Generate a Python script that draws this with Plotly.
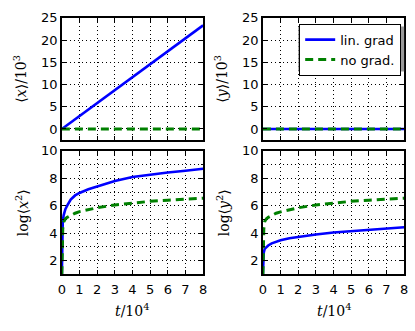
import plotly.graph_objects as go

# ---- data ----
t_lin = [0, 8]
mean_x_grad = [0, 23.3]
mean_x_nograd = [0, 0]
mean_y_grad = [0, 0]
mean_y_nograd = [0, 0]

t_log = [0, 0.02, 0.05, 0.1, 0.2, 0.3, 0.5, 0.75, 1, 1.5, 2, 3, 4, 5, 6, 7, 8]
logx2_grad = [1, 4.0, 4.8, 5.3, 5.75, 6.0, 6.45, 6.75, 6.93, 7.2, 7.4, 7.8, 8.1, 8.28, 8.42, 8.55, 8.7]
logx2_nograd = [1, 3.6, 4.3, 4.8, 5.05, 5.15, 5.3, 5.45, 5.57, 5.73, 5.85, 6.05, 6.2, 6.32, 6.4, 6.48, 6.55]
logy2_grad = [1, 2.2, 2.6, 2.85, 3.0, 3.1, 3.25, 3.38, 3.48, 3.62, 3.72, 3.9, 4.05, 4.15, 4.25, 4.35, 4.43]
logy2_nograd = [1, 3.6, 4.3, 4.85, 5.05, 5.15, 5.3, 5.45, 5.55, 5.72, 5.85, 6.05, 6.2, 6.32, 6.4, 6.48, 6.55]

x_ticks = [0, 1, 2, 3, 4, 5, 6, 7, 8]
top_y_ticks = [0, 5, 10, 15, 20, 25]
bot_y_ticks = [2, 4, 6, 8, 10]

BLUE = "#0000ff"
GREEN = "#008000"
W, H = 415, 331

fig = go.Figure()

def add(x, y, xa, ya, color, dash, name, show):
    fig.add_trace(go.Scatter(
        x=x, y=y, xaxis=xa, yaxis=ya, mode="lines", name=name,
        line=dict(color=color, width=2.6 if dash == "solid" else 3, dash=dash),
        showlegend=show, legendgroup=name))

# top-left
add(t_lin, mean_x_grad, "x", "y", BLUE, "solid", "lin. grad", True)
add(t_lin, mean_x_nograd, "x", "y", GREEN, "8px,5px", "no grad.", True)
# top-right
add(t_lin, mean_y_grad, "x2", "y2", BLUE, "solid", "lin. grad", False)
add(t_lin, mean_y_nograd, "x2", "y2", GREEN, "8px,5px", "no grad.", False)
# bottom-left
add(t_log, logx2_grad, "x3", "y3", BLUE, "solid", "lin. grad", False)
add(t_log, logx2_nograd, "x3", "y3", GREEN, "8px,5px", "no grad.", False)
# bottom-right
add(t_log, logy2_grad, "x4", "y4", BLUE, "solid", "lin. grad", False)
add(t_log, logy2_nograd, "x4", "y4", GREEN, "8px,5px", "no grad.", False)

px = lambda v: v / W
py = lambda v: 1 - v / H

xl = [px(59), px(203)]
xr = [px(264), px(408)]
yt = [py(136), py(11)]
yb = [py(273), py(147)]

tickfont = dict(family="DejaVu Sans", size=13, color="black")
grid = dict(showgrid=True, gridcolor="black", gridwidth=0.8, griddash="1px,3px")
common = dict(showline=True, linecolor="black", linewidth=1.6, mirror="allticks",
              ticks="inside", ticklen=4, tickwidth=1, tickcolor="black",
              zeroline=False, tickfont=tickfont, **grid)

def xaxis(domain, anchor, labels):
    return dict(domain=domain, anchor=anchor, range=[0, 8], tickvals=x_ticks,
                showticklabels=labels, ticklabelstandoff=2, **common)

def yaxis_top(domain, anchor):
    return dict(domain=domain, anchor=anchor, range=[-2.5, 25], tickvals=top_y_ticks, **common)

def yaxis_bot(domain, anchor):
    return dict(domain=domain, anchor=anchor, range=[1, 10], tickvals=bot_y_ticks,
                minor=dict(dtick=1, tick0=1, showgrid=True, gridcolor="black", gridwidth=0.8,
                           griddash="1px,3px", ticks="inside", ticklen=2, tickcolor="black"),
                **common)

fig.update_layout(
    width=W, height=H, margin=dict(l=0, r=0, t=0, b=0),
    paper_bgcolor="white", plot_bgcolor="white",
    xaxis=xaxis(xl, "y", False),
    yaxis=yaxis_top(yt, "x"),
    xaxis2=xaxis(xr, "y2", False),
    yaxis2=yaxis_top(yt, "x2"),
    xaxis3=xaxis(xl, "y3", True),
    yaxis3=yaxis_bot(yb, "x3"),
    xaxis4=xaxis(xr, "y4", True),
    yaxis4=yaxis_bot(yb, "x4"),
    showlegend=True,
    legend=dict(x=px(405), xanchor="right", y=py(17), yanchor="top",
                bgcolor="white", bordercolor="black", borderwidth=1,
                font=dict(family="DejaVu Sans", size=13, color="black"),
                itemwidth=30, tracegroupgap=0),
)

# legend shadow
fig.add_shape(type="rect", xref="paper", yref="paper",
              x0=px(300), x1=px(408), y0=py(66), y1=py(20),
              fillcolor="#9a9a9a", line=dict(width=0), layer="above")

serif = dict(family="DejaVu Serif", size=14, color="black")
ann = [
    (px(16), (yt[0] + yt[1]) / 2, "⟨<i>x</i>⟩/10<sup>3</sup>", -90),
    (px(221), (yt[0] + yt[1]) / 2, "⟨<i>y</i>⟩/10<sup>3</sup>", -90),
    (px(18), (yb[0] + yb[1]) / 2, "log⟨<i>x</i><sup>2</sup>⟩", -90),
    (px(223), (yb[0] + yb[1]) / 2, "log⟨<i>y</i><sup>2</sup>⟩", -90),
    ((xl[0] + xl[1]) / 2, py(310), "<i>t</i>/10<sup>4</sup>", 0),
    ((xr[0] + xr[1]) / 2, py(310), "<i>t</i>/10<sup>4</sup>", 0),
]
for x, y, text, ang in ann:
    fig.add_annotation(x=x, y=y, xref="paper", yref="paper", text=text, showarrow=False,
                       textangle=ang, font=serif, xanchor="center", yanchor="middle")

fig.write_html("out.html", config={"displayModeBar": False},
               post_script="document.body.style.margin='0';")
